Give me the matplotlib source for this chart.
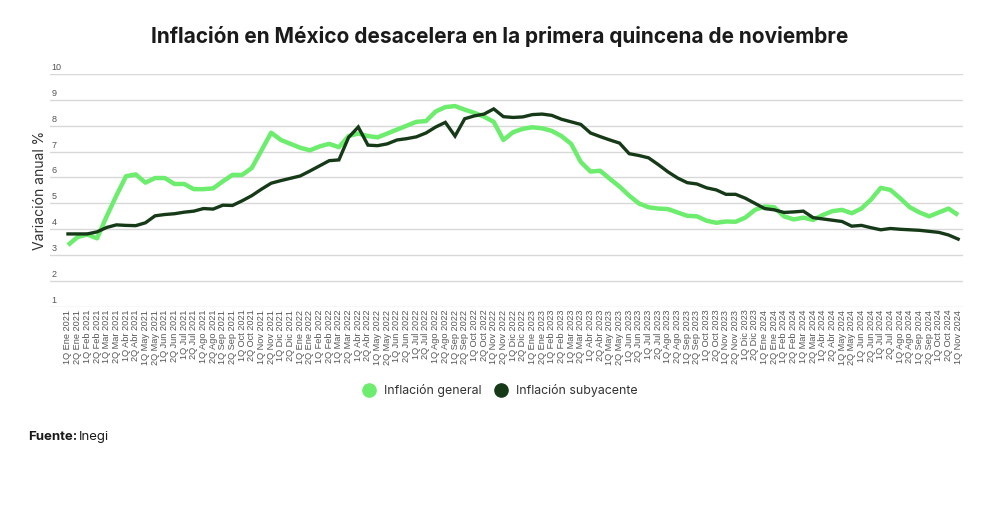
import matplotlib
matplotlib.use("Agg")
import matplotlib.pyplot as plt
from matplotlib.lines import Line2D

# Quincenas, de 1Q Ene 2021 a 1Q Nov 2024
meses = ["Ene", "Feb", "Mar", "Abr", "May", "Jun",
         "Jul", "Ago", "Sep", "Oct", "Nov", "Dic"]
etiquetas = []
for anio in [2021, 2022, 2023, 2024]:
    for mes in meses:
        for q in ["1Q", "2Q"]:
            etiquetas.append(f"{q} {mes} {anio}")
etiquetas = etiquetas[:etiquetas.index("1Q Nov 2024") + 1]

general = [3.39, 3.70, 3.80, 3.65, 4.50, 5.30, 6.05, 6.12, 5.80, 5.98,
           5.98, 5.75, 5.75, 5.55, 5.55, 5.58, 5.85, 6.10, 6.10, 6.37,
           7.05, 7.73, 7.45, 7.30, 7.15, 7.05, 7.20, 7.30, 7.17, 7.60,
           7.70, 7.60, 7.55, 7.70, 7.85, 8.00, 8.15, 8.18, 8.55, 8.72,
           8.76, 8.62, 8.50, 8.35, 8.15, 7.45, 7.75, 7.88, 7.94, 7.90,
           7.80, 7.60, 7.30, 6.60, 6.23, 6.26, 5.95, 5.65, 5.30, 5.00,
           4.85, 4.80, 4.78, 4.65, 4.52, 4.50, 4.33, 4.25, 4.30, 4.29,
           4.45, 4.75, 4.88, 4.85, 4.50, 4.38, 4.45, 4.36, 4.55, 4.70,
           4.75, 4.62, 4.80, 5.15, 5.60, 5.52, 5.20, 4.85, 4.65, 4.50,
           4.65, 4.80, 4.55]

subyacente = [3.82, 3.82, 3.82, 3.90, 4.07, 4.17, 4.15, 4.14, 4.25, 4.52,
              4.57, 4.60, 4.66, 4.70, 4.80, 4.78, 4.93, 4.92, 5.10, 5.30,
              5.55, 5.78, 5.88, 5.97, 6.06, 6.25, 6.45, 6.65, 6.68, 7.55,
              7.95, 7.25, 7.23, 7.30, 7.45, 7.50, 7.57, 7.72, 7.95, 8.13,
              7.60, 8.27, 8.38, 8.45, 8.65, 8.35, 8.32, 8.34, 8.43, 8.45,
              8.40, 8.25, 8.15, 8.05, 7.72, 7.58, 7.45, 7.33, 6.92, 6.85,
              6.76, 6.50, 6.22, 5.98, 5.80, 5.75, 5.60, 5.52, 5.35, 5.35,
              5.20, 5.00, 4.80, 4.75, 4.65, 4.67, 4.70, 4.45, 4.40, 4.35,
              4.30, 4.12, 4.15, 4.06, 3.98, 4.03, 4.00, 3.98, 3.96, 3.92,
              3.88, 3.78, 3.62]

yticks = list(range(1, 11))

verde = "#6ded6d"
oscuro = "#163a17"
gris = "#555555"

fig = plt.figure(figsize=(10, 5.09), dpi=100)
ax = fig.add_axes([0.050, 0.397, 0.913, 0.4577])

x = list(range(len(etiquetas)))
ax.plot(x, general, color=verde, lw=3.2, solid_joinstyle="round",
        solid_capstyle="butt", zorder=3, clip_on=False)
ax.plot(x, subyacente, color=oscuro, lw=2.4, solid_joinstyle="miter",
        zorder=4, clip_on=False)

ax.set_xlim(-1.86, 92.5)
ax.set_ylim(1, 10)
ax.set_yticks(yticks)
ax.set_yticklabels([])
ax.grid(axis="y", color="#d8d8d8", lw=1)
ax.set_axisbelow(True)
for s in ax.spines.values():
    s.set_visible(False)
ax.tick_params(axis="y", length=0)
ax.tick_params(axis="x", length=0, pad=2)
ax.set_xticks(x)
ax.set_xticklabels(etiquetas, rotation=90, fontsize=6.6,
                   family="Liberation Sans", color=gris)

# numeros del eje y arriba de cada linea de la reticula
for v in yticks:
    ax.text(0.002, v + 0.08, str(v), transform=ax.get_yaxis_transform(),
            ha="left", va="bottom", fontsize=6.5, family="Liberation Sans",
            color=gris)
ax.set_ylabel("Variación anual %", family="Inter", fontsize=10,
              color="#333333", labelpad=-1)

fig.text(0.5, 0.928, "Inflación en México desacelera en la primera quincena de noviembre",
         ha="center", va="center", family="Inter", fontweight="bold",
         fontsize=15, color="#1a1a1a")

handles = [Line2D([], [], ls="none", marker="o", ms=9.5, color=verde),
           Line2D([], [], ls="none", marker="o", ms=9.5, color=oscuro)]
fig.legend(handles, ["Inflación general", "Inflación subyacente"],
           loc="center", bbox_to_anchor=(0.497, 0.232), ncol=2, frameon=False,
           prop={"family": "Inter", "size": 8.9}, handletextpad=0.2,
           columnspacing=0.6, labelcolor="#333333")

fig.text(0.028, 0.141, "Fuente:", family="Inter", fontweight="bold",
         fontsize=9.5, color="#1a1a1a", va="center")
fig.text(0.079, 0.141, "Inegi", family="Inter", fontsize=9.5,
         color="#1a1a1a", va="center")

fig.savefig("out.png", dpi=100, facecolor="white")
